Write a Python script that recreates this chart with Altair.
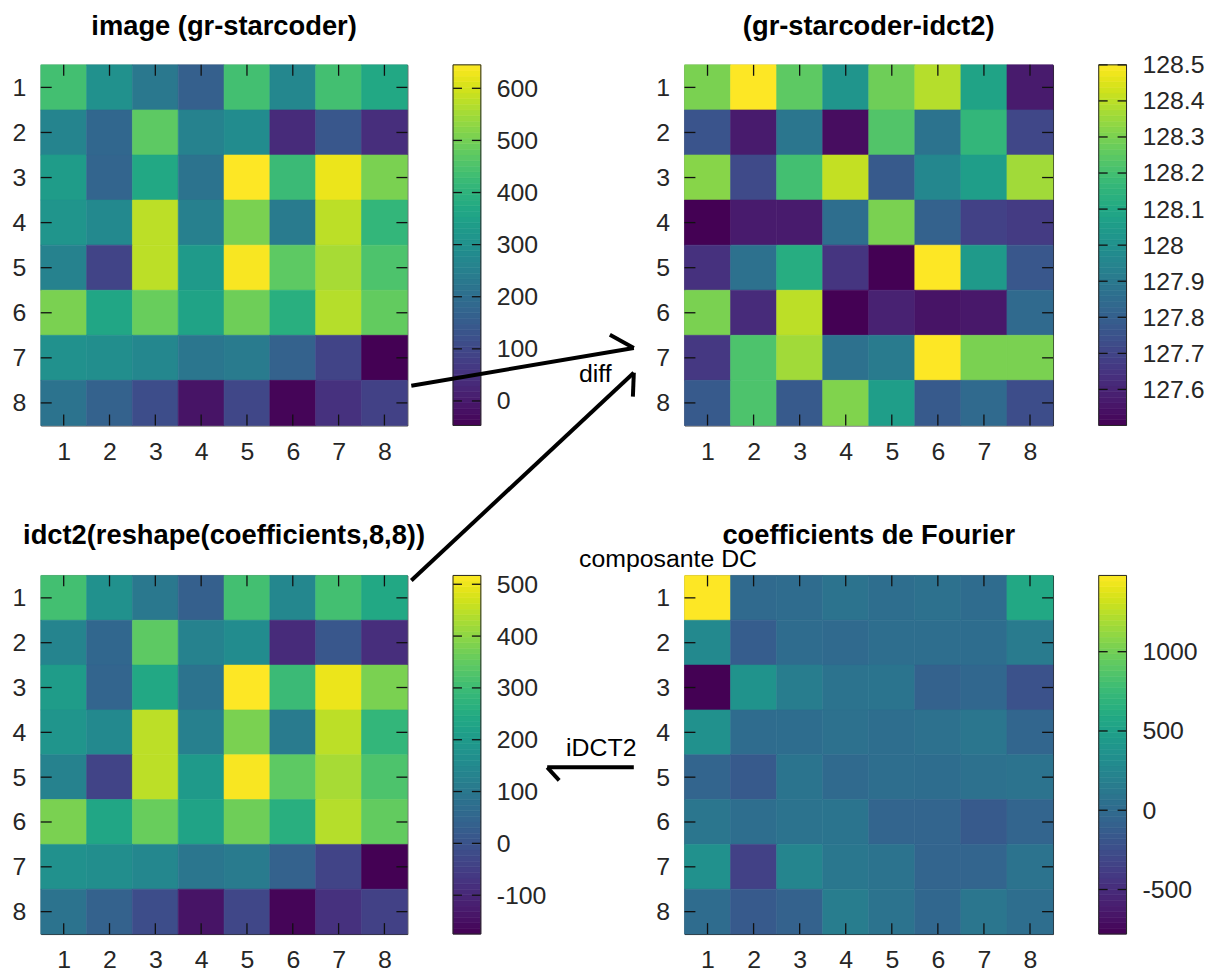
import altair as alt
import numpy as np
import pandas as pd

# ---------------- data ----------------
TICKS = [1, 2, 3, 4, 5, 6, 7, 8]

IMAGE = [
    [438, 299, 230, 160, 438, 271, 438, 368],
    [264, 181, 472, 257, 285, 36, 140, 43],
    [334, 174, 368, 216, 645, 424, 625, 507],
    [313, 278, 576, 250, 507, 237, 576, 410],
    [257, 91, 576, 327, 639, 472, 555, 451],
    [507, 361, 486, 354, 493, 389, 569, 479],
    [299, 292, 271, 223, 237, 167, 91, -47],
    [216, 167, 112, -13, 98, -40, 50, 84],
]

DIFF = [
    [128.30, 128.50, 128.25, 128.02, 128.28, 128.39, 128.08, 127.57],
    [127.76, 127.57, 127.89, 127.53, 128.23, 127.88, 128.16, 127.71],
    [128.32, 127.72, 128.20, 128.41, 127.78, 127.96, 128.06, 128.36],
    [127.50, 127.57, 127.57, 127.86, 128.30, 127.81, 127.69, 127.67],
    [127.64, 127.87, 128.12, 127.65, 127.50, 128.50, 128.04, 127.77],
    [128.30, 127.62, 128.40, 127.50, 127.59, 127.55, 127.56, 127.84],
    [127.66, 128.22, 128.36, 127.87, 127.91, 128.50, 128.30, 128.30],
    [127.78, 128.22, 127.78, 128.31, 128.06, 127.78, 127.84, 127.73],
]

IDCT = [
    [310, 171, 102, 32, 310, 143, 310, 240],
    [136, 53, 344, 129, 157, -92, 12, -85],
    [206, 46, 240, 88, 517, 296, 497, 379],
    [185, 150, 448, 122, 379, 109, 448, 282],
    [129, -37, 448, 199, 511, 344, 427, 323],
    [379, 233, 358, 226, 365, 261, 441, 351],
    [171, 164, 143, 95, 109, 39, -37, -175],
    [88, 39, -16, -141, -30, -168, -78, -44],
]

COEFS = [
    [1481, -12, 11, 79, 33, 56, 11, 576],
    [282, -125, 11, -12, 33, 33, 22, 146],
    [-781, 373, 169, 79, 90, -80, -35, -215],
    [350, 11, 22, 56, 33, 56, 101, -46],
    [-57, -148, 90, -12, 33, 22, 56, 79],
    [101, 33, 79, 90, -57, -57, -148, -57],
    [350, -351, 237, 112, 79, -57, -57, 79],
    [11, -148, -80, 169, 79, -35, 101, 33],
]

TITLES = [
    "image (gr-starcoder)",
    "(gr-starcoder-idct2)",
    "idct2(reshape(coefficients,8,8))",
    "coefficients de Fourier",
]

CB_TICKS_IMAGE = [0, 100, 200, 300, 400, 500, 600]
CB_TICKS_DIFF = [127.6, 127.7, 127.8, 127.9, 128, 128.1, 128.2, 128.3, 128.4, 128.5]
CB_TICKS_IDCT = [-100, 0, 100, 200, 300, 400, 500]
CB_TICKS_COEF = [-500, 0, 500, 1000]

# annotations, in the data coordinates of the panel they are drawn in
ARROWS_TR = {"x1": [-5.43, -0.60, -5.43, -0.60], "y1": [7.62, 6.78, 11.94, 7.33],
             "x2": [-0.60, -1.12, -0.60, -0.62], "y2": [6.78, 6.49, 7.33, 7.86]}
TEXTS_TR = {"label": ["diff"], "x": [-1.79], "y": [7.53]}
ARROWS_BR = {"x1": [-0.60, -2.48], "y1": [4.78, 4.78],
             "x2": [-2.48, -2.22], "y2": [4.78, 5.07]}
TEXTS_BR = {"label": ["iDCT2", "composante DC"], "x": [-2.07, -1.79], "y": [4.53, 0.32]}

# ---------------- styling ----------------
FONT = "Liberation Sans"
LABEL_COLOR = "#262626"
FRAME = "#262626"
TICK_COLOR = "#111111"
TICK_LEN = 11
CB_GAP = 46
CB_W = 28


def panel(matrix, title, w, h, cb_ticks, title_dy, arrows=None, texts=None):
    rows, cols, vals = [], [], []
    for r, rv in enumerate(matrix):
        for c, v in enumerate(rv):
            rows.append(r + 1)
            cols.append(c + 1)
            vals.append(v)
    df = pd.DataFrame({"row": rows, "col": cols, "v": vals})
    df["x0"] = df["col"] - 0.5
    df["x1"] = df["col"] + 0.5
    df["y0"] = df["row"] - 0.5
    df["y1"] = df["row"] + 0.5
    vmin, vmax = float(df["v"].min()), float(df["v"].max())

    xs = alt.Scale(domain=[0.5, 8.5], nice=False, zero=False)
    ys = alt.Scale(domain=[0.5, 8.5], nice=False, zero=False, reverse=True)
    cs = alt.Scale(scheme="viridis", domain=[vmin, vmax])

    common = dict(title=None, ticks=False, domain=False, grid=False, labelFont=FONT,
                  labelFontSize=25, labelColor=LABEL_COLOR, labelOverlap=False,
                  labelFlush=False, values=TICKS)
    # x is shared by all layers: every layer carries the same axis definition
    ax_x = alt.Axis(orient="bottom", labelPadding=14, **common)
    ax_y = alt.Axis(orient="left", labelPadding=15, **common)

    heat = alt.Chart(df).mark_rect(strokeWidth=0.6).encode(
        x=alt.X("x0:Q", scale=xs, axis=ax_x),
        x2="x1:Q",
        y=alt.Y("y0:Q", scale=ys, axis=ax_y),
        y2="y1:Q",
        color=alt.Color("v:Q", scale=cs, legend=None),
        stroke=alt.Stroke("v:Q", scale=cs, legend=None),
    )

    tdf = pd.DataFrame({"t": TICKS})
    tk = dict(color=TICK_COLOR, strokeWidth=1.3)
    t_bottom = alt.Chart(tdf).mark_rule(**tk).encode(
        x=alt.X("t:Q", scale=xs, axis=ax_x), y=alt.value(h), y2=alt.value(h - TICK_LEN))
    t_top = alt.Chart(tdf).mark_rule(**tk).encode(
        x=alt.X("t:Q", scale=xs, axis=ax_x), y=alt.value(0), y2=alt.value(TICK_LEN))
    t_left = alt.Chart(tdf).mark_rule(**tk).encode(
        y=alt.Y("t:Q", scale=ys, axis=None), x=alt.value(0), x2=alt.value(TICK_LEN))
    t_right = alt.Chart(tdf).mark_rule(**tk).encode(
        y=alt.Y("t:Q", scale=ys, axis=None), x=alt.value(w), x2=alt.value(w - TICK_LEN))

    ttl = alt.Chart(pd.DataFrame({"t": [title]})).mark_text(
        font=FONT, fontSize=27.5, fontWeight="bold", color="black",
        align="center", baseline="alphabetic").encode(
        text="t:N", x=alt.value(w / 2), y=alt.value(title_dy))

    layers = [heat, t_bottom, t_top, t_left, t_right, ttl]
    if arrows is not None:
        layers.append(alt.Chart(pd.DataFrame(arrows)).mark_rule(
            color="black", strokeWidth=4, strokeCap="butt").encode(
            x=alt.X("x1:Q", scale=xs, axis=ax_x), y=alt.Y("y1:Q", scale=ys, axis=None),
            x2="x2:Q", y2="y2:Q"))
    if texts is not None:
        layers.append(alt.Chart(pd.DataFrame(texts)).mark_text(
            font=FONT, fontSize=25, color="black", align="left",
            baseline="alphabetic").encode(
            x=alt.X("x:Q", scale=xs, axis=ax_x), y=alt.Y("y:Q", scale=ys, axis=None),
            text="label:N"))

    # colour bar
    edges = np.linspace(vmin, vmax, 65)
    bdf = pd.DataFrame({"lo": edges[:-1], "hi": edges[1:],
                        "mid": (edges[:-1] + edges[1:]) / 2})
    cbs = alt.Scale(domain=[vmin, vmax], nice=False, zero=False)
    cx0 = w + CB_GAP
    cx1 = w + CB_GAP + CB_W
    cb = alt.Chart(bdf).mark_rect(strokeWidth=0.6).encode(
        y=alt.Y("lo:Q", scale=cbs, axis=alt.Axis(
            orient="right", offset=CB_GAP + CB_W, values=cb_ticks,
            labelExpr="'' + datum.value", title=None, ticks=False, domain=False,
            grid=False, labelFont=FONT, labelFontSize=25, labelColor=LABEL_COLOR,
            labelPadding=15.5, labelOverlap=False, labelFlush=False)),
        y2="hi:Q",
        x=alt.value(cx0), x2=alt.value(cx1),
        color=alt.Color("mid:Q", scale=cs, legend=None),
        stroke=alt.Stroke("mid:Q", scale=cs, legend=None),
    )
    cdf = pd.DataFrame({"t": cb_ticks})
    d_left = alt.Chart(cdf).mark_rule(color=TICK_COLOR, strokeWidth=1.3).encode(
        y=alt.Y("t:Q", scale=cbs, axis=None), x=alt.value(cx0), x2=alt.value(cx0 + 9))
    d_right = alt.Chart(cdf).mark_rule(color=TICK_COLOR, strokeWidth=1.3).encode(
        y=alt.Y("t:Q", scale=cbs, axis=None), x=alt.value(cx1 - 9), x2=alt.value(cx1))
    frame = alt.Chart(pd.DataFrame({"k": [0]})).mark_rect(
        fillOpacity=0, stroke=FRAME, strokeWidth=1).encode(
        x=alt.value(cx0), x2=alt.value(cx1), y=alt.value(0), y2=alt.value(h))
    layers += [cb, d_left, d_right, frame]

    return alt.layer(*layers).resolve_scale(
        y="independent", color="independent", stroke="independent"
    ).properties(width=w, height=h)


p_tl = panel(IMAGE, TITLES[0], 369, 363, CB_TICKS_IMAGE, -30.5)
p_tr = panel(DIFF, TITLES[1], 371, 363, CB_TICKS_DIFF, -30.5, ARROWS_TR, TEXTS_TR)
p_bl = panel(IDCT, TITLES[2], 369, 361, CB_TICKS_IDCT, -32)
p_br = panel(COEFS, TITLES[3], 371, 361, CB_TICKS_COEF, -32, ARROWS_BR, TEXTS_BR)

chart = alt.concat(
    p_tl, p_tr, p_bl, p_br, columns=2, bounds="flush",
    spacing={"row": 151, "column": 279},
).resolve_scale(
    color="independent", stroke="independent"
).properties(
    padding={"left": 3, "top": 1, "right": 2, "bottom": 0}
).configure_view(stroke=FRAME, strokeWidth=1)

chart.save("out.html", embed_options={"renderer": "svg", "actions": False})
